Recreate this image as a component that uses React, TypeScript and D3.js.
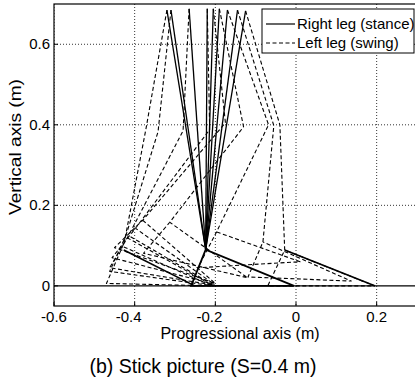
import React, { useEffect, useRef } from "react";
import * as d3 from "d3";

const xTicks = [-0.6, -0.4, -0.2, 0, 0.2];
const yTicks = [0, 0.2, 0.4, 0.6];

// hip position of each frame (shared by both legs)
const hipX = [-0.32, -0.31, -0.265, -0.22, -0.205, -0.19, -0.17, -0.145, -0.125];
const hipY = [0.685, 0.685, 0.688, 0.688, 0.688, 0.688, 0.685, 0.685, 0.683];

// right leg (stance): straight leg down to a fixed ankle, foot flat
const stanceAnkle = [-0.224, 0.09];
const stanceHeel = [-0.26, 0];
const stanceToe = [-0.005, 0];

// left leg (swing)
const kneeX = [-0.372, -0.342, -0.28, -0.214, -0.175, -0.13, -0.068, -0.055, -0.04];
const kneeY = [0.39, 0.383, 0.385, 0.388, 0.405, 0.395, 0.4, 0.398, 0.4];
const ankleX = [-0.423, -0.43, -0.415, -0.398, -0.38, -0.313, -0.197, -0.082, -0.028];
const ankleY = [0.122, 0.098, 0.125, 0.143, 0.163, 0.158, 0.134, 0.109, 0.089];
const heelX = [-0.462, -0.47, -0.462, -0.456, -0.45, -0.378, -0.243, -0.119, -0.07];
const heelY = [0.036, 0.006, 0.045, 0.07, 0.095, 0.081, 0.045, 0.022, 0.0];
const toeX = [-0.205, -0.208, -0.205, -0.203, -0.2, -0.12, 0.01, 0.137, 0.195];
const toeY = [0.0, 0.0, 0.002, 0.004, 0.006, 0.02, 0.06, 0.012, 0.0];

// feet drawn solid at the start / end of the step
const solidFootX = [[-0.427, -0.251], [-0.028, 0.195]];
const solidFootY = [[0.089, 0.0], [0.089, 0.0]];

const FONT = "'Liberation Sans', Arial, sans-serif";

export default function App() {
  const svgRef = useRef<SVGSVGElement>(null);

  useEffect(() => {
    if (!svgRef.current) return;
    const svg = d3.select(svgRef.current);
    svg.selectAll("*").remove();

    const left = 54, right = 417, top = 4, bottom = 306;
    const x = d3.scaleLinear().domain([-0.6, 0.3]).range([left, right]);
    const y = d3.scaleLinear().domain([-0.05, 0.7]).range([bottom, top]);

    svg.append("rect").attr("width", 415).attr("height", 381).attr("fill", "#fff");

    svg.append("clipPath").attr("id", "plot-clip")
      .append("rect")
      .attr("x", left).attr("y", top)
      .attr("width", right - left).attr("height", bottom - top);

    const g = svg.append("g").attr("clip-path", "url(#plot-clip)");

    // grid
    g.selectAll(".gx").data(xTicks).enter().append("line")
      .attr("x1", (d) => x(d)).attr("x2", (d) => x(d))
      .attr("y1", top).attr("y2", bottom)
      .attr("stroke", "#000").attr("stroke-width", 0.8)
      .attr("stroke-dasharray", "1,2");
    g.selectAll(".gy").data(yTicks.filter((d) => d !== 0)).enter().append("line")
      .attr("x1", left).attr("x2", right)
      .attr("y1", (d) => y(d)).attr("y2", (d) => y(d))
      .attr("stroke", "#000").attr("stroke-width", 0.8)
      .attr("stroke-dasharray", "1,2");

    // ground
    g.append("line")
      .attr("x1", left).attr("x2", right)
      .attr("y1", y(0)).attr("y2", y(0))
      .attr("stroke", "#000").attr("stroke-width", 1.2);

    const line = d3.line<number[]>().x((d) => x(d[0])).y((d) => y(d[1]));

    // left leg (swing), dashed
    hipX.forEach((hx, i) => {
      const pts = [
        [hx, hipY[i]],
        [kneeX[i], kneeY[i]],
        [ankleX[i], ankleY[i]],
        [heelX[i], heelY[i]],
        [toeX[i], toeY[i]],
        [ankleX[i], ankleY[i]],
      ];
      g.append("path")
        .attr("d", line(pts))
        .attr("fill", "none")
        .attr("stroke", "#000")
        .attr("stroke-width", 1.1)
        .attr("stroke-dasharray", "4,2.5")
        .attr("stroke-linejoin", "round");
    });

    // right leg (stance), solid
    hipX.forEach((hx, i) => {
      g.append("path")
        .attr("d", line([[hx, hipY[i]], stanceAnkle]))
        .attr("fill", "none")
        .attr("stroke", "#000")
        .attr("stroke-width", 1.3);
    });
    g.append("path")
      .attr("d", line([stanceToe, stanceAnkle, stanceHeel, stanceToe]))
      .attr("fill", "none")
      .attr("stroke", "#000")
      .attr("stroke-width", 1.8);
    solidFootX.forEach((fx, i) => {
      g.append("path")
        .attr("d", line(fx.map((v, j) => [v, solidFootY[i][j]])))
        .attr("fill", "none")
        .attr("stroke", "#000")
        .attr("stroke-width", 1.6);
    });

    // axes box
    svg.append("rect")
      .attr("x", left).attr("y", top)
      .attr("width", right - left).attr("height", bottom - top)
      .attr("fill", "none").attr("stroke", "#000").attr("stroke-width", 1.2);

    // ticks (inside)
    svg.selectAll(".tx").data(xTicks).enter().append("line")
      .attr("x1", (d) => x(d)).attr("x2", (d) => x(d))
      .attr("y1", bottom).attr("y2", bottom - 4)
      .attr("stroke", "#000");
    svg.selectAll(".ty").data(yTicks).enter().append("line")
      .attr("x1", left).attr("x2", left + 4)
      .attr("y1", (d) => y(d)).attr("y2", (d) => y(d))
      .attr("stroke", "#000");

    // tick labels
    svg.selectAll(".lx").data(xTicks).enter().append("text")
      .attr("x", (d) => x(d) - (d < 0 && d > -0.6 ? 6 : 0)).attr("y", 322)
      .attr("text-anchor", "middle")
      .style("font-family", FONT).style("font-size", "15px")
      .text((d) => (d === 0 ? "0" : d.toFixed(1)));
    svg.selectAll(".ly").data(yTicks).enter().append("text")
      .attr("x", 50).attr("y", (d) => y(d) + 5)
      .attr("text-anchor", "end")
      .style("font-family", FONT).style("font-size", "15px")
      .text((d) => (d === 0 ? "0" : d.toFixed(1)));

    // axis titles
    svg.append("text")
      .attr("x", 240).attr("y", 339)
      .attr("text-anchor", "middle")
      .style("font-family", FONT).style("font-size", "16px")
      .text("Progressional axis (m)");
    svg.append("text")
      .attr("transform", "translate(21,147) rotate(-90)")
      .attr("text-anchor", "middle")
      .attr("textLength", 136)
      .attr("lengthAdjust", "spacingAndGlyphs")
      .style("font-family", FONT).style("font-size", "17px")
      .text("Vertical axis (m)");

    // caption
    svg.append("text")
      .attr("x", 203).attr("y", 373)
      .attr("text-anchor", "middle")
      .style("font-family", FONT).style("font-size", "19.5px")
      .text("(b) Stick picture (S=0.4 m)");

    // legend
    const lg = svg.append("g");
    lg.append("rect")
      .attr("x", 262).attr("y", 9)
      .attr("width", 152).attr("height", 44)
      .attr("fill", "#fff").attr("stroke", "#000").attr("stroke-width", 1);
    const items = [
      { label: "Right leg (stance)", dash: null },
      { label: "Left leg (swing)", dash: "4,2.5" },
    ];
    items.forEach((it, i) => {
      const yy = 24 + i * 19;
      lg.append("line")
        .attr("x1", 266).attr("x2", 295)
        .attr("y1", yy).attr("y2", yy)
        .attr("stroke", "#000").attr("stroke-width", 1.2)
        .attr("stroke-dasharray", it.dash);
      lg.append("text")
        .attr("x", 297).attr("y", yy + 5)
        .style("font-family", FONT).style("font-size", "15px")
        .text(it.label);
    });
  }, []);

  return (
    <svg
      ref={svgRef}
      width={415}
      height={381}
      style={{ position: "absolute", left: 0, top: 0 }}
    />
  );
}
